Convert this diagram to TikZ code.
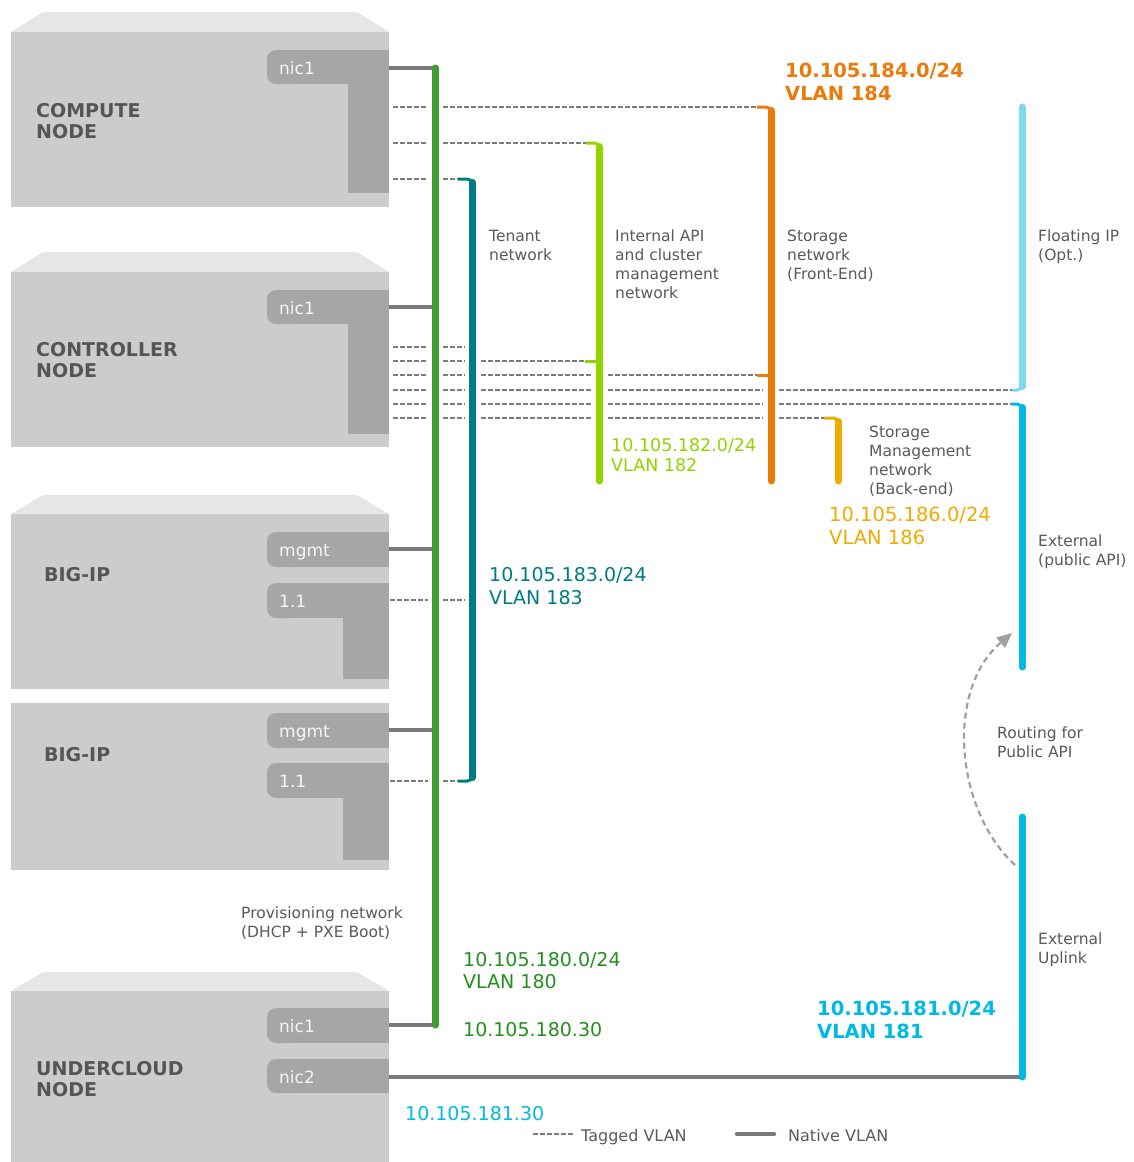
\documentclass[tikz,border=0pt]{standalone}
\usepackage{fontspec}
\setmainfont{DejaVu Sans}
\usetikzlibrary{arrows.meta}
\definecolor{bodyc}{HTML}{CCCCCC}
\definecolor{bevelc}{HTML}{E6E6E6}
\definecolor{tabc}{HTML}{A6A6A6}
\definecolor{nativec}{HTML}{7A7A7A}
\definecolor{dashc}{HTML}{7C7C7C}
\definecolor{txtc}{HTML}{5A5A5A}
\definecolor{titlec}{HTML}{555555}
\definecolor{routc}{HTML}{A0A0A0}
\definecolor{greenbar}{HTML}{3F9C35}
\definecolor{tealbar}{HTML}{007A87}
\definecolor{limebar}{HTML}{92D400}
\definecolor{orangebar}{HTML}{EC7A08}
\definecolor{yellowbar}{HTML}{F0AB00}
\definecolor{cyanbar}{HTML}{7DD9F0}
\definecolor{bluebar}{HTML}{00B9E4}
\definecolor{greentxt}{HTML}{23901E}
\newcommand{\nicTab}[2]{%
  \fill[tabf, rounded corners=9pt] (267,#1) rectangle (300,#2);
  \fill[tabf] (285,#1) rectangle (389,#2);}
\newcommand{\nicLeg}[3]{%
  \fill[tabf] (#2,#1-0.5) rectangle (389,#3);}
\tikzset{
  bevelf/.style={fill=bevelc},
  bodyf/.style={fill=bodyc},
  tabf/.style={fill=tabc},
  native/.style={draw=nativec, line width=4.5pt},
  tagged/.style={draw=dashc, line width=1.6pt, dash pattern=on 4.5pt off 2.5pt},
  vbar/.style={line width=7pt, line cap=round},
  stub/.style={line width=3pt, rounded corners=5pt},
  lbl/.style={anchor=north west, inner sep=0pt, align=left, text=txtc, font=\fontsize{15.5pt}{19pt}\selectfont},
  ttl/.style={anchor=north west, inner sep=0pt, align=left, text=titlec, font=\fontsize{19pt}{20.5pt}\selectfont\bfseries},
  tabtxt/.style={anchor=base west, inner sep=0pt, text=white!96!black, font=\fontsize{17pt}{20pt}\selectfont},
  ip/.style={anchor=north west, inner sep=0pt, align=left, font=\fontsize{19pt}{22.6pt}\selectfont},
  ipb/.style={anchor=north west, inner sep=0pt, align=left, font=\fontsize{19.5pt}{22.5pt}\selectfont\bfseries},
  routing/.style={draw=routc, line width=2.2pt, dash pattern=on 6pt off 4pt, -{Triangle[length=15pt,width=13pt]}}
}
\begin{document}
\begin{tikzpicture}[x=1pt,y=-1pt]
\useasboundingbox (0,0) rectangle (1134,1162);
\fill[white] (0,0) rectangle (1134,1162);

% ---------- server boxes ----------
\fill[bevelf] (11,32) -- (43,12) -- (357,12) -- (389,32) -- cycle;
\fill[bodyf] (11,32) rectangle (389,207);
\fill[bevelf] (11,272) -- (43,252) -- (357,252) -- (389,272) -- cycle;
\fill[bodyf] (11,272) rectangle (389,447);
\fill[bevelf] (11,514) -- (43,495) -- (357,495) -- (389,514) -- cycle;
\fill[bodyf] (11,514) rectangle (389,689);
\fill[bodyf] (11,703) rectangle (389,870);
\fill[bevelf] (11,991) -- (43,972) -- (357,972) -- (389,991) -- cycle;
\fill[bodyf] (11,991) rectangle (389,1162);

% ---------- NIC tabs ----------
\nicTab{50}{84}\nicLeg{84}{348}{193}
\nicTab{290}{324}\nicLeg{324}{348}{434}
\nicTab{532}{567}
\nicTab{583}{618}\nicLeg{618}{343}{679}
\nicTab{713}{748}
\nicTab{763}{798}\nicLeg{798}{343}{860}
\nicTab{1008}{1043}
\nicTab{1059}{1093}

\node[tabtxt] (tcnic) at (279,74) {nic1};
\node[tabtxt] (tknic) at (279,314) {nic1};
\node[tabtxt] (tb1m) at (279,556.5) {mgmt};
\node[tabtxt] (tb1p) at (279,607.5) {1.1};
\node[tabtxt] (tb2m) at (279,737.5) {mgmt};
\node[tabtxt] (tb2p) at (279,787.5) {1.1};
\node[tabtxt] (tun1) at (279,1032.5) {nic1};
\node[tabtxt] (tun2) at (279,1083) {nic2};

% ---------- titles ----------
\node[ttl] (compute) at (36,103.2) {COMPUTE\\NODE};
\node[ttl] (controller) at (36,342.2) {CONTROLLER\\NODE};
\node[ttl] (bigip1) at (44,567.2) {BIG-IP};
\node[ttl] (bigip2) at (44,747.2) {BIG-IP};
\node[ttl] (undercloud) at (36,1061.2) {UNDERCLOUD\\NODE};

% ---------- coordinates ----------
\coordinate (gTop) at (435.5,68);
\coordinate (gBot) at (435.5,1025);
\coordinate (tTop) at (472.5,179);
\coordinate (tBot) at (472.5,781);
\coordinate (lTop) at (599.5,143);
\coordinate (lBot) at (599.5,481);
\coordinate (oTop) at (771,107);
\coordinate (oBot) at (771,481);
\coordinate (yTop) at (838.5,418);
\coordinate (yBot) at (838.5,481);
\coordinate (cTop) at (1022,107);
\coordinate (cBot) at (1022,390);
\coordinate (bTop) at (1022,404);
\coordinate (bBot) at (1022,667);
\coordinate (uTop) at (1022,817);
\coordinate (uBot) at (1022,1077);

% ---------- native links ----------
\draw[native] (389,68) -- (gTop);
\draw[native] (389,307) -- (435.5,307);
\draw[native] (389,549) -- (435.5,549);
\draw[native] (389,730) -- (435.5,730);
\draw[native] (389,1025) -- (gBot);
\draw[native] (389,1077) -- (uBot);

% ---------- tagged links ----------
\foreach \y in {107,143,179,347,361,375,390,404,418}
  \draw[tagged] (393,\y) -- (428,\y);
\foreach \y in {347,361,375,390,404,418}
  \draw[tagged] (443,\y) -- (465,\y);
\draw[tagged] (443,107) -- (757,107);
\draw[tagged] (443,143) -- (586,143);
\draw[tagged] (443,179) -- (458,179);
\draw[tagged] (481,361) -- (585,361);
\foreach \y in {375,390,404,418}
  \draw[tagged] (481,\y) -- (592,\y);
\draw[tagged] (608,375) -- (757,375);
\foreach \y in {390,404,418}
  \draw[tagged] (608,\y) -- (763,\y);
\draw[tagged] (779,390) -- (1012,390);
\draw[tagged] (779,404) -- (1012,404);
\draw[tagged] (779,418) -- (824,418);
\draw[tagged] (390,600) -- (428,600);
\draw[tagged] (443,600) -- (465,600);
\draw[tagged] (390,781) -- (428,781);
\draw[tagged] (443,781) -- (458,781);

% ---------- network bars ----------
\draw[vbar, greenbar] (gTop) -- (gBot);

\draw[stub, tealbar] (458,179) -- (tTop) -- ++(0,12);
\draw[stub, tealbar] (458,781) -- (tBot) -- ++(0,-12);
\draw[vbar, tealbar] ([yshift=-3.5pt]tTop) -- ([yshift=3.5pt]tBot);

\draw[stub, limebar] (586,143) -- (lTop) -- ++(0,12);
\draw[vbar, limebar] ([yshift=-3.5pt]lTop) -- (lBot);
\draw[line width=3pt, limebar] (585,361) -- (599.5,361);

\draw[stub, orangebar] (757,107) -- (oTop) -- ++(0,12);
\draw[vbar, orangebar] ([yshift=-3.5pt]oTop) -- (oBot);
\draw[line width=3pt, orangebar] (757,375) -- (771,375);

\draw[stub, yellowbar] (824,418) -- (yTop) -- ++(0,12);
\draw[vbar, yellowbar] ([yshift=-3.5pt]yTop) -- (yBot);

\draw[stub, cyanbar] (1012,390) -- (cBot) -- ++(0,-12);
\draw[vbar, cyanbar] (cTop) -- ([yshift=3.5pt]cBot);

\draw[stub, bluebar] (1012,404) -- (bTop) -- ++(0,12);
\draw[vbar, bluebar] ([yshift=-3.5pt]bTop) -- (bBot);

\draw[vbar, bluebar] (uTop) -- (uBot);

% ---------- routing arrow ----------
\coordinate (rS) at (1015,865);
\coordinate (rE) at (1012,633);
\draw[routing] (rS) .. controls (955,810) and (945,690) .. (rE);

% ---------- labels ----------
\node[lbl] (tenant) at (489,229.7) {Tenant\\network};
\node[lbl] (internal) at (615,229.7) {Internal API\\and cluster\\management\\network};
\node[lbl] (storfe) at (787,229.7) {Storage\\network\\(Front-End)};
\node[lbl] (floating) at (1038,229.7) {Floating IP\\(Opt.)};
\node[lbl] (stormgmt) at (869,425.7) {Storage\\Management\\network\\(Back-end)};
\node[lbl] (extpub) at (1038,534.4) {External\\(public API)};
\node[lbl] (extup) at (1038,932.7) {External\\Uplink};
\node[lbl] (routing) at (997,726.7) {Routing for\\Public API};
\node[lbl] (prov) at (241,906.4) {Provisioning network\\(DHCP + PXE Boot)};

% ---------- addresses ----------
\node[ipb, text=orangebar] (ip184) at (785,63.3) {10.105.184.0/24\\VLAN 184};
\node[ip, text=limebar, font=\fontsize{17.5pt}{20pt}\selectfont] (ip182) at (611,438) {10.105.182.0/24\\VLAN 182};
\node[ip, text=yellowbar, font=\fontsize{19.5pt}{22.6pt}\selectfont] (ip186) at (829,507.3) {10.105.186.0/24\\VLAN 186};
\node[ip, text=tealbar, font=\fontsize{19pt}{23pt}\selectfont] (ip183) at (489,567) {10.105.183.0/24\\VLAN 183};
\node[ip, text=greentxt] (ip180) at (463,951.7) {10.105.180.0/24\\VLAN 180};
\node[ip, text=greentxt] (ip18030) at (463,1021.7) {10.105.180.30};
\node[ipb, text=bluebar, font=\fontsize{19.5pt}{23pt}\selectfont\bfseries] (ip181) at (817,1001) {10.105.181.0/24\\VLAN 181};
\node[ip, text=bluebar] (ip18130) at (405,1105.7) {10.105.181.30};

% ---------- legend ----------
\coordinate (lgT1) at (533,1134);
\coordinate (lgT2) at (573,1134);
\coordinate (lgN1) at (737,1134);
\coordinate (lgN2) at (774,1134);
\draw[tagged] (lgT1) -- (lgT2);
\node[lbl, font=\fontsize{16pt}{19pt}\selectfont] (tagged) at (581,1128.8) {Tagged VLAN};
\draw[native, line cap=round] (lgN1) -- (lgN2);
\node[lbl, font=\fontsize{16pt}{19pt}\selectfont] (nativelbl) at (788,1128.8) {Native VLAN};
\end{tikzpicture}
\end{document}
